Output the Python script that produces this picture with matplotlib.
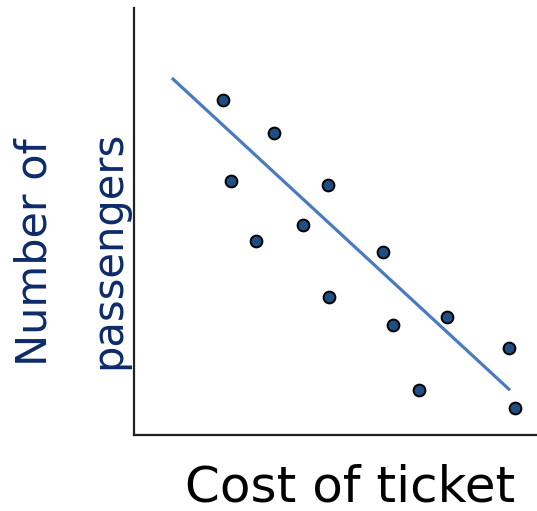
import matplotlib
matplotlib.use("Agg")
import matplotlib.pyplot as plt

# Ticket cost vs passenger count (arbitrary units)
cost = [22.1, 34.7, 24.1, 48.1, 30.3, 41.9, 61.8, 48.4, 64.3, 77.7, 93.1, 70.7, 94.5]
passengers = [78.5, 70.7, 59.5, 58.5, 45.4, 49.2, 42.9, 32.3, 25.8, 27.6, 20.4, 10.5, 6.3]

# Trend line end points
trend_x = [9.4, 93.3]
trend_y = [83.6, 10.5]

fig = plt.figure(figsize=(5.37, 5.11), dpi=100)
ax = fig.add_axes([134 / 537, 76 / 511, 403 / 537, 427 / 511])
ax.set_xlim(0, 100)
ax.set_ylim(0, 100)

ax.plot(trend_x, trend_y, color="#4a7bbf", lw=2.3, solid_capstyle="butt", zorder=2)
ax.scatter(cost, passengers, s=72, color="#1f4e85", edgecolor="black", linewidth=1.4, zorder=3)

for side in ("top", "right"):
    ax.spines[side].set_visible(False)
for side in ("left", "bottom"):
    ax.spines[side].set_linewidth(1.6)
    ax.spines[side].set_color("#222222")
ax.set_xticks([])
ax.set_yticks([])

fig.text(350 / 537, 1 - 487 / 511, "Cost of ticket", ha="center", va="center",
         fontsize=36, color="black", family="DejaVu Sans")
fig.text(35 / 537, 1 - 252 / 511, "Number of", ha="center", va="center",
         rotation=90, fontsize=31, color="#0d2a6b", family="DejaVu Sans")
fig.text(108 / 537, 1 - 250 / 511, "passengers", ha="center", va="center",
         rotation=90, fontsize=30, color="#0d2a6b", family="DejaVu Sans")

fig.savefig("out.png", dpi=100)
